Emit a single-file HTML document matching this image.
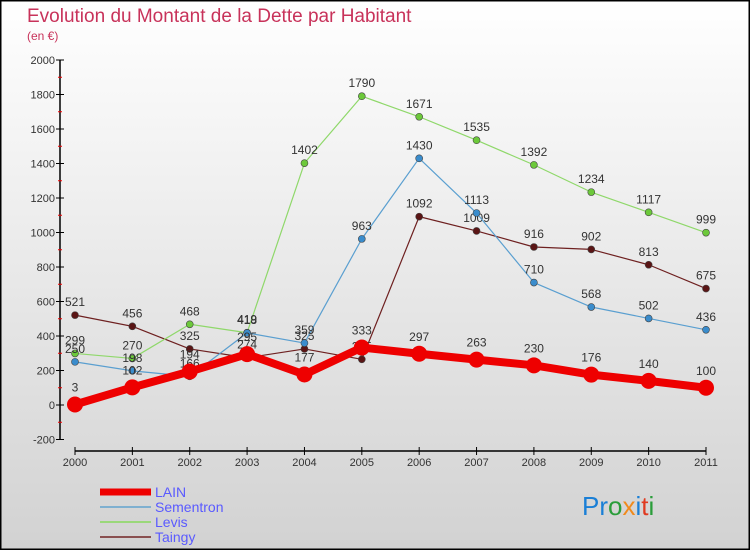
<!DOCTYPE html>
<html><head><meta charset="utf-8"><style>
body{margin:0;width:750px;height:550px;overflow:hidden;font-family:"Liberation Sans",sans-serif}
svg text{font-family:"Liberation Sans",sans-serif}
</style></head><body>
<svg id="c" width="750" height="550" viewBox="0 0 750 550" xmlns="http://www.w3.org/2000/svg">
<defs><linearGradient id="bg" x1="0" y1="0" x2="0" y2="1"><stop offset="0" stop-color="#ffffff"/><stop offset="1" stop-color="#d2d2d2"/></linearGradient></defs>
<rect x="0.5" y="0.5" width="749" height="549" fill="url(#bg)" stroke="#000" stroke-width="2"/>
<text x="27" y="22" font-size="19" fill="#c8325a">Evolution du Montant de la Dette par Habitant</text>
<text x="27" y="40" font-size="12" fill="#c8325a">(en €)</text>
<g id="axes"></g><g id="series"></g><g id="legend"></g>
<text x="582" y="515" font-size="26" font-family="DejaVu Sans" fill="#1a7fd6">Pr<tspan fill="#2a9d3a">o</tspan><tspan fill="#f08a1c">x</tspan><tspan fill="#1a7fd6">i</tspan><tspan fill="#e03a20">t</tspan><tspan fill="#2a9d3a">i</tspan></text>
</svg>
<script>
const years=[2000,2001,2002,2003,2004,2005,2006,2007,2008,2009,2010,2011];
const yTicks=[-200,0,200,400,600,800,1000,1200,1400,1600,1800,2000];
const seriesNames=["LAIN","Sementron","Levis","Taingy"];
const lain=[3,102,194,295,177,333,297,263,230,176,140,100];
const sementron=[250,198,166,418,359,963,1430,1113,710,568,502,436];
const levis=[299,270,468,419,1402,1790,1671,1535,1392,1234,1117,999];
const taingy=[521,456,325,274,325,265,1092,1009,916,902,813,675];
const NS="http://www.w3.org/2000/svg";
function X(i){return 75+i*(706-75)/11;}
function Y(v){return 405-v*(345/2000);}
function mk(t,a,p){const e=document.createElementNS(NS,t);for(const k in a)e.setAttribute(k,a[k]);p.appendChild(e);return e;}
const ax=document.getElementById('axes');
let e=mk('line',{x1:60,y1:Y(2000),x2:60,y2:Y(-200),stroke:'#000','stroke-width':1.5},ax);

e=mk('line',{x1:X(0),y1:451,x2:X(11),y2:451,stroke:'#000','stroke-width':1.5},ax);

yTicks.forEach((v,i)=>{
 mk('line',{x1:56,x2:64,y1:Y(v),y2:Y(v),stroke:'#000'},ax);
 if(i<yTicks.length-1)mk('line',{x1:58,x2:62,y1:Y(v+100),y2:Y(v+100),stroke:'#e00'},ax);
 const t=mk('text',{x:55,y:Y(v)+4,'font-size':11,'text-anchor':'end',fill:'#333'},ax);t.textContent=v;
 
});
years.forEach((y,i)=>{
 mk('line',{x1:X(i),x2:X(i),y1:447,y2:455,stroke:'#000'},ax);
 const t=mk('text',{x:X(i),y:466,'font-size':11,'text-anchor':'middle',fill:'#333'},ax);t.textContent=y;
 
});
const sg=document.getElementById('series');
const defs=[[taingy,'#6e2020','#5a1515',1.2,3.5,'taingy'],[levis,'#8fd86a','#6cc93a',1.2,3.5,'levis'],[sementron,'#5a9fd0','#3a8ccc',1.2,3.5,'sementron'],[lain,'#ee0000','#ee0000',8,8,'lain']];
defs.forEach(([d,c,pc,w,r,n])=>{
 const g=mk('g',{},sg);
 
 const pl=mk('polyline',{points:d.map((v,i)=>X(i)+','+Y(v)).join(' '),fill:'none',stroke:c,'stroke-width':w,'stroke-linejoin':'round'},g);
 
 d.forEach((v,i)=>{
  const p=mk('circle',{cx:X(i),cy:Y(v),r:r,fill:pc,stroke:'#444','stroke-width':n=='lain'?0:0.6},g);
  
  const t=mk('text',{x:X(i),y:Y(v)-(n=='lain'?13:9),'font-size':12,'text-anchor':'middle',fill:'#333'},g);t.textContent=v;
  
 });
});
const lg=document.getElementById('legend');
const lc=[['#ee0000',7],['#7fb0d0',2],['#9ad87a',2],['#8a5050',2]];
seriesNames.forEach((n,i)=>{
 const y=492+i*15;
 const g=mk('g',{},lg);
 
 mk('line',{x1:100,x2:151,y1:y,y2:y,stroke:lc[i][0],'stroke-width':lc[i][1]},g);
 const t=mk('text',{x:155,y:y+5,'font-size':14,fill:'#5a5aff'},g);t.textContent=n;
});
</script>
</body></html>
